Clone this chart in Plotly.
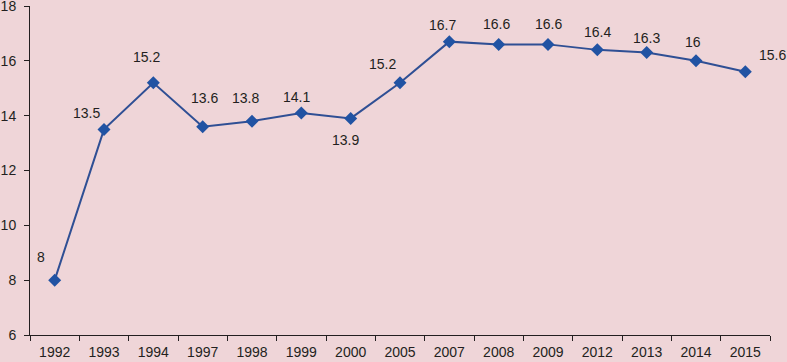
import plotly.graph_objects as go

years = ["1992", "1993", "1994", "1997", "1998", "1999", "2000", "2005",
         "2007", "2008", "2009", "2012", "2013", "2014", "2015"]
values = [8, 13.5, 15.2, 13.6, 13.8, 14.1, 13.9, 15.2, 16.7, 16.6, 16.6, 16.4, 16.3, 16, 15.6]
labels = ["8", "13.5", "15.2", "13.6", "13.8", "14.1", "13.9", "15.2",
          "16.7", "16.6", "16.6", "16.4", "16.3", "16", "15.6"]
# label pixel offsets (style only)
label_dx = [-14, -18, -7, 2, -7, -5, -5, -18, -7, -2, 0, 0, 0, -3, 27]
label_dy = [23, 16, 26, 29, 23, 16, -22, 19, 17, 20, 20, 18, 15, 19, 17]

BG = "#efd5d8"
FONT = dict(family="Liberation Sans, Arial, sans-serif", size=14, color="#231f20")

fig = go.Figure()
fig.add_trace(go.Scatter(
    x=years, y=values, mode="lines+markers",
    line=dict(color="#2f4f94", width=2),
    marker=dict(symbol="diamond", size=10, color="#2153a3"),
    hoverinfo="skip", showlegend=False, cliponaxis=False,
))

for i, (y, t, dx, dy) in enumerate(zip(values, labels, label_dx, label_dy)):
    fig.add_annotation(x=i, y=y, xref="x", yref="y", text=t, showarrow=False,
                       xshift=dx, yshift=dy, font=FONT)

fig.update_layout(
    width=787, height=362,
    margin=dict(l=30, r=17, t=6, b=27, autoexpand=False),
    paper_bgcolor=BG, plot_bgcolor=BG,
    font=FONT,
)
fig.update_xaxes(
    type="category", categoryorder="array", categoryarray=years,
    range=[-0.5, len(years) - 0.5], automargin=False,
    showline=True, linecolor="#231f20", linewidth=1,
    ticks="outside", tickson="boundaries", ticklen=5, tickcolor="#231f20",
    ticklabelstandoff=4, ticklabeloverflow="allow",
    showgrid=False, zeroline=False, tickfont=FONT,
)
fig.update_yaxes(
    range=[6, 18], dtick=2, tick0=6, automargin=False,
    showline=True, linecolor="#231f20", linewidth=1,
    ticks="outside", ticklen=5, tickcolor="#231f20",
    ticklabelstandoff=5, ticklabeloverflow="allow",
    showgrid=False, zeroline=False, tickfont=FONT,
)

fig.write_html("out.html", config={"displayModeBar": False},
               post_script="document.body.style.margin='0';document.body.style.overflow='hidden';")
